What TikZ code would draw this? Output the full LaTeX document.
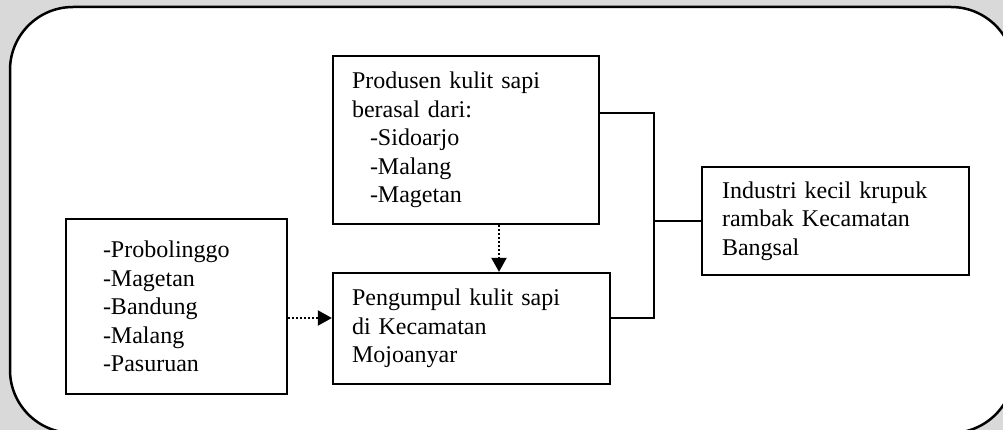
\documentclass[tikz,border=0pt]{standalone}
\usepackage{fontspec}
\setmainfont{Liberation Serif}
\usepackage{tikz}
\usetikzlibrary{arrows.meta}
\newcommand\kotak[5]{
  \node[draw,line width=2.3pt,align=left,inner xsep=#4,inner ysep=4pt,
        text width=#3-2*#4,minimum height=#5,
        font=\fontsize{24}{28.5}\selectfont] (#1) at #2 {\Isi};
}

\begin{document}
\begin{tikzpicture}[x=1pt,y=-1pt]
        \useasboundingbox (0,0) rectangle (1003,430);
        \clip (0,0) rectangle (1003,430);
        \fill[black!15] (0,0) rectangle (1003,430);
        \draw[fill=white,line width=2.5pt,rounded corners=63pt] (10,7) rectangle (1014,433);
        \def\Isi{Produsen kulit sapi\\ berasal dari:\\ \hspace*{18pt}-Sidoarjo\\
            \hspace*{18pt}-Malang\\ \hspace*{18pt}-Magetan}
        \kotak{produsen}{(466,140)}{266pt}{19pt}{168pt}
        \def\Isi{Pengumpul kulit sapi\\ di Kecamatan\\ Mojoanyar}
        \kotak{pengumpul}{(471.5,328.5)}{277pt}{19pt}{111pt}
        \def\Isi{-Probolinggo\\ -Magetan\\ -Bandung\\ -Malang\\ -Pasuruan}
        \kotak{asal}{(176.5,306.5)}{221pt}{37pt}{175pt}
        \def\Isi{Industri kecil krupuk\\ rambak Kecamatan\\ Bangsal}
        \kotak{industri}{(835.5,221)}{267pt}{20pt}{108pt}
        \coordinate (atas) at (0,113);
        \coordinate (masuk) at (0,318);
        \coordinate (bus) at (654,0);
        \coordinate (turun) at (499,0);
        \draw[line width=2pt,line join=miter]
            (produsen.east |- atas) -| (bus |- masuk) -- (pengumpul.east |- masuk);
        \draw[line width=2pt] (bus |- industri.west) -- (industri.west);
        \draw[line width=2pt,dash pattern=on 2pt off 2pt,-{Triangle[width=15pt,length=14pt]}]
            (produsen.south -| turun) -- (pengumpul.north -| turun);
        \draw[line width=2pt,dash pattern=on 2pt off 2pt,-{Triangle[width=15pt,length=14pt]}]
            (asal.east |- masuk) -- (pengumpul.west |- masuk);
    \end{tikzpicture}
\end{document}
